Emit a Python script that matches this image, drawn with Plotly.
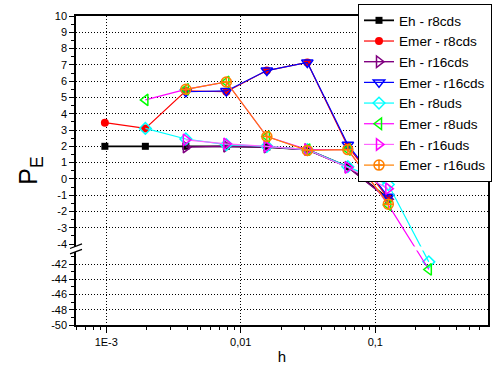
import plotly.graph_objects as go

# ---- data ----
H = [0.0009765625, 0.001953125, 0.00390625, 0.0078125, 0.015625,
     0.03125, 0.0625, 0.125, 0.25]

SERIES_NAMES = ["Eh - r8cds", "Emer - r8cds", "Eh - r16cds", "Emer - r16cds",
                "Eh - r8uds", "Emer - r8uds", "Eh - r16uds", "Emer - r16uds"]

eh_r8cds = [2.0, 2.0, 2.0, 2.0, 1.95, 1.8, 0.75, -1.2, None]
emer_r8cds = [3.45, 3.1, 5.4, 5.35, 6.65, 7.15, 2.0, -1.2, None]
eh_r16cds = [None, None, 1.95, 2.0, 1.95, 1.8, 0.72, -1.25, None]
emer_r16cds = [None, None, 5.35, 5.4, 6.65, 7.15, 2.1, -1.1, None]
eh_r8uds = [None, 3.1, 2.45, 2.1, 2.0, 1.8, 0.75, -0.35, -41.7]
emer_r8uds = [None, 4.85, 5.5, 5.95, 2.6, 1.8, 1.8, -1.6, -42.7]
eh_r16uds = [None, None, 2.4, 2.15, 2.0, 1.8, 0.7, -0.6, None]
emer_r16uds = [None, None, 5.5, 5.95, 2.6, 1.75, 1.8, -1.55, None]

Y_TICKS = [10, 9, 8, 7, 6, 5, 4, 3, 2, 1, 0, -1, -2, -3, -4, -42, -44, -46, -48, -50]
Y_GRID = [9, 8, 7, 6, 5, 4, 3, 2, 1, 0, -1, -2, -3, -42, -44, -46, -48]
Y_MINOR = [9.5, 8.5, 7.5, 6.5, 5.5, 4.5, 3.5, 2.5, 1.5, 0.5, -0.5, -1.5, -2.5, -3.5,
           -41, -43, -45, -47, -49]
X_TICKS = [0.001, 0.01, 0.1]
X_TICKTEXT = ["1E-3", "0,01", "0,1"]
X_MINOR = [m * d for d in (0.0001, 0.001, 0.01, 0.1) for m in (2, 3, 4, 5, 6, 7, 8, 9)]

# ---- broken y axis: top part [-4.3, 10], bottom part [-50, -40] compressed ----
TOP_LOW = -4.3
BOT_HIGH = -40.0
RATIO = 0.467


def ty(v):
    if v is None:
        return None
    if v >= TOP_LOW:
        return v
    return TOP_LOW + (v - BOT_HIGH) * RATIO


Y_MIN = ty(-50)
Y_MAX = 10

styles = [
    dict(line=dict(color="#000000", width=1.8), marker=dict(symbol="square", size=7, color="#000000")),
    dict(line=dict(color="#FF0000", width=1.2), marker=dict(symbol="circle", size=8, color="#FF0000")),
    dict(line=dict(color="#800080", width=1.4), marker=dict(symbol="triangle-right-open", size=10, color="#800080", line=dict(width=1.5))),
    dict(line=dict(color="#0000FF", width=1.2), marker=dict(symbol="triangle-down-open", size=10, color="#0000FF", line=dict(width=1.5))),
    dict(line=dict(color="#00FFFF", width=1.2), marker=dict(symbol="diamond-open", size=9, color="#00FFFF", line=dict(width=1.5))),
    dict(line=dict(color="#FF00FF", width=1.2), marker=dict(symbol="triangle-left-open", size=10, color="#00FF00", line=dict(width=1.5))),
    dict(line=dict(color="#FF66FF", width=1.2), marker=dict(symbol="triangle-right-open", size=10, color="#FF00FF", line=dict(width=1.5))),
    dict(line=dict(color="#FF8000", width=1.2), marker=dict(symbol="circle-cross-open", size=10, color="#FF8000", line=dict(width=1.5))),
]
all_series = [eh_r8cds, emer_r8cds, eh_r16cds, emer_r16cds,
              eh_r8uds, emer_r8uds, eh_r16uds, emer_r16uds]

fig = go.Figure()
for name, ys, st in zip(SERIES_NAMES, all_series, styles):
    xs = [h for h, y in zip(H, ys) if y is not None]
    yv = [ty(y) for y in ys if y is not None]
    fig.add_trace(go.Scatter(x=xs, y=yv, name=name, mode="lines+markers",
                             line=st["line"], marker=st["marker"], cliponaxis=False))

# dummy trace to host the grid axis
fig.add_trace(go.Scatter(x=[None], y=[None], yaxis="y2", showlegend=False, hoverinfo="skip"))

W, HGT = 498, 374
ML, MR, MT, MB = 76, 10, 16, 49
PW = W - ML - MR
PH = HGT - MT - MB

font = "Liberation Sans, Arial, sans-serif"
GRID_DASH = "1px,2px"

fig.update_layout(
    width=W, height=HGT,
    margin=dict(l=ML, r=MR, t=MT, b=MB, autoexpand=False),
    paper_bgcolor="white", plot_bgcolor="white",
    font=dict(family=font, color="black", size=11),
    showlegend=True,
    legend=dict(x=(358 - ML) / PW, y=1 + 12 / PH, xanchor="left", yanchor="top",
                bgcolor="white", bordercolor="black", borderwidth=1,
                font=dict(size=13.6, family=font, color="black"),
                tracegroupgap=0),
    xaxis=dict(type="log", range=[-3.225, -0.162], automargin=False,
               tickvals=X_TICKS, ticktext=X_TICKTEXT,
               ticks="outside", ticklen=6, tickwidth=1, tickcolor="black",
               showline=True, linecolor="black", linewidth=1.5, mirror=True,
               showgrid=True, gridcolor="black", griddash=GRID_DASH, gridwidth=1,
               zeroline=False,
               minor=dict(tickvals=X_MINOR, ticks="outside", ticklen=3, tickcolor="black", showgrid=False),
               title=dict(text="h", font=dict(size=15, family=font), standoff=5),
               tickfont=dict(size=11, family=font)),
    yaxis=dict(range=[Y_MIN, Y_MAX], automargin=False,
               tickvals=[ty(v) for v in Y_TICKS], ticktext=[str(v) for v in Y_TICKS],
               ticks="outside", ticklen=5, tickwidth=1, tickcolor="black",
               showline=True, linecolor="black", linewidth=1.5, mirror=True,
               showgrid=False, zeroline=False,
               minor=dict(tickvals=[ty(v) for v in Y_MINOR], ticks="outside", ticklen=3, tickcolor="black", showgrid=False),
               title=dict(text="P<sub>E</sub>", font=dict(size=25, family=font), standoff=6),
               tickfont=dict(size=11, family=font)),
    yaxis2=dict(range=[Y_MIN, Y_MAX], overlaying="y", side="left", automargin=False,
                tickvals=[ty(v) for v in Y_GRID], showticklabels=False, ticks="",
                showline=False, zeroline=False,
                showgrid=True, gridcolor="black", griddash=GRID_DASH, gridwidth=1),
)

# break marks on the left axis
yb = (ty(TOP_LOW) - Y_MIN) / (Y_MAX - Y_MIN)  # paper y of break


def px2x(dx):
    return dx / PW


def px2y(dy):
    return dy / PH


x0, x1 = px2x(-6), px2x(6)
gap = px2y(2.7)
tilt = px2y(2.3)
fig.add_shape(type="path", xref="paper", yref="paper",
              path=f"M {x0} {yb - tilt + gap} L {x1} {yb + tilt + gap} L {x1} {yb + tilt - gap} L {x0} {yb - tilt - gap} Z",
              fillcolor="white", line=dict(width=0), layer="above")
for s in (gap, -gap):
    fig.add_shape(type="line", xref="paper", yref="paper",
                  x0=x0, y0=yb - tilt + s, x1=x1, y1=yb + tilt + s,
                  line=dict(color="black", width=1.2), layer="above")
# small interruption of data lines crossing the break
fig.add_shape(type="rect", xref="paper", yref="paper",
              x0=px2x(393 - ML), x1=px2x(445 - ML),
              y0=yb - px2y(1.5), y1=yb + px2y(2.5),
              fillcolor="white", line=dict(width=0), layer="above")

fig.write_html("out.html", config={"displayModeBar": False},
               post_script="document.body.style.margin='0px';document.body.style.overflow='hidden';")
